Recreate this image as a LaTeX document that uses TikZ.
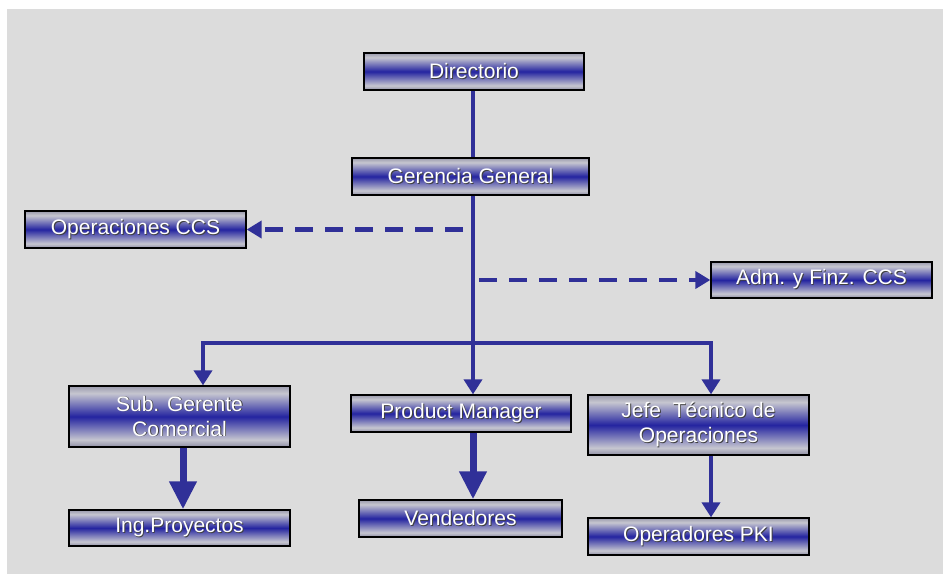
\documentclass[tikz,border=0pt]{standalone}
\usepackage{fontspec}
\setmainfont{Liberation Sans}
\usetikzlibrary{arrows.meta}

\definecolor{bggray}{HTML}{DCDCDC}
\definecolor{navy}{HTML}{2424A0}
\definecolor{lineblue}{HTML}{303098}
\definecolor{shtop}{HTML}{9A9AAC}
\definecolor{shbot}{HTML}{8E8EA4}
\definecolor{shlight}{HTML}{C6C6D0}

% grey - blue - grey band used to fill every box
\pgfdeclareverticalshading{orgshade}{100bp}{%
  color(0bp)=(shbot); color(25bp)=(shbot); color(31bp)=(shlight);
  color(50bp)=(navy); color(69bp)=(shlight); color(75bp)=(shtop);
  color(100bp)=(shtop)}

% white label with a dark drop shadow
\newcommand\shtxt[1]{\leavevmode\rlap{\kern0.9pt\raisebox{-0.9pt}{\textcolor{black!75}{#1}}}#1}

\tikzset{
  orgbox/.style={draw=black, line width=1.3pt, shading=orgshade, text=white,
    font=\fontsize{21}{25}\selectfont, inner sep=0pt, align=center,
    minimum width=221pt, minimum height=37pt},
  conn/.style={draw=lineblue, line width=4.5pt},
  arr/.style={conn, -{Triangle[width=18pt,length=15pt]}},
  bigarr/.style={draw=lineblue, line width=7pt, -{Triangle[width=26pt,length=28pt]}},
  dasharr/.style={conn, dash pattern=on 18pt off 12pt, -{Triangle[width=17pt,length=15pt]}}
}

\begin{document}
\begin{tikzpicture}[x=1pt,y=-1pt]
\useasboundingbox (0,0) rectangle (943,574);
\fill[bggray] (7,9) rectangle (943,574);

% boxes
\node[orgbox, minimum width=220pt] (dir) at (474,71.5) {\shtxt{Directorio}};
\node[orgbox, minimum width=237pt] (ger) at (470.5,176.5) {\shtxt{Gerencia General}};
\node[orgbox] (ops) at (135.5,229.5) {\shtxt{Operaciones CCS}};
\node[orgbox, minimum height=36pt] (adm) at (821.5,280) {\shtxt{Adm. y Finz. CCS}};
\node[orgbox, minimum height=61pt] (sub) at (179.5,416.5) {\shtxt{Sub. Gerente}\\\shtxt{Comercial}};
\node[orgbox, minimum width=220pt] (pm) at (461,413.5) {\shtxt{Product Manager}};
\node[orgbox, minimum height=60pt] (jefe) at (698.5,425) {\shtxt{Jefe\ \ Técnico de}\\\shtxt{Operaciones}};
\node[orgbox, minimum height=36pt] (ing) at (179.5,528) {\shtxt{Ing.Proyectos}};
\node[orgbox, minimum width=203pt] (vend) at (460.5,518.5) {\shtxt{Vendedores}};
\node[orgbox] (opk) at (698.5,536.5) {\shtxt{Operadores PKI}};

% trunk and branch points
\coordinate (trunk) at (473,343);
\coordinate (lbar) at (203,343);
\coordinate (rbar) at (711,343);
\coordinate (lstart) at (463,229.5);
\coordinate (rstart) at (479,280);

\draw[conn] (dir.south -| trunk) -- (ger.north -| trunk);
\draw[conn] (ger.south -| trunk) -- (trunk);
\draw[conn, shorten <=-2.25pt, shorten >=-2.25pt] (lbar) -- (rbar);

\draw[arr] (lbar) -- (lbar |- sub.north);
\draw[arr] (trunk) -- (trunk |- pm.north);
\draw[arr] (rbar) -- (rbar |- jefe.north);

\draw[dasharr] (lstart) -- (ops.east);
\draw[dasharr] (rstart) -- (rstart -| adm.west);

\draw[bigarr] ([xshift=3.5pt]sub.south) -- ([xshift=3.5pt]ing.north);
\draw[bigarr] (pm.south -| trunk) -- (vend.north -| trunk);
\draw[arr] (jefe.south -| rbar) -- (opk.north -| rbar);
\end{tikzpicture}
\end{document}
